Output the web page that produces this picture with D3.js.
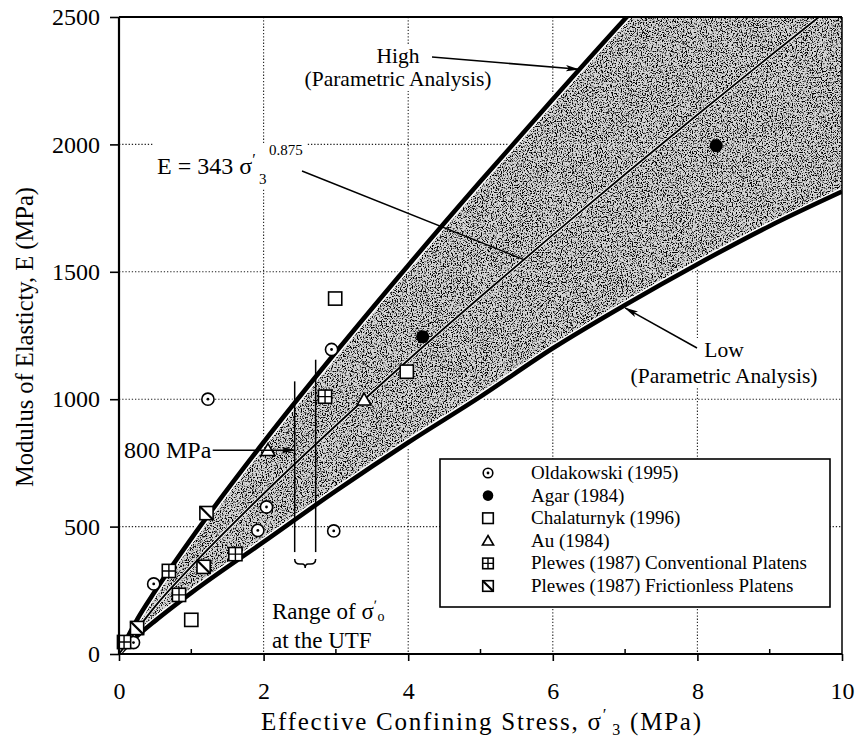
<!DOCTYPE html>
<html>
<head>
<meta charset="utf-8">
<script src="https://cdn.jsdelivr.net/npm/d3@7"></script>
<style>
  body { margin: 0; background: #fff; }
  svg { display: block; font-family: "Liberation Serif", "Times New Roman", serif; }
</style>
</head>
<body>
<div id="chart"></div>
<script>
const xTicks = [0, 2, 4, 6, 8, 10];
const xMinorTicks = [1, 3, 5, 7, 9];
const yTicks = [0, 500, 1000, 1500, 2000, 2500];
const xGrid = [2, 4, 6, 8];
const yGrid = [500, 1000, 1500, 2000];

// Envelope curves and the fitted line (MPa)
const highX = [0, 0.25, 0.5, 1, 2, 3, 4, 5, 6, 7, 7.5];
const highE = [0, 135, 247, 453, 831, 1185, 1525, 1855, 2177, 2493, 2646];
const midX  = [0, 0.5, 1, 2, 3, 4, 5, 6, 7, 8, 9, 10];
const midE  = [0, 187, 343, 629, 897, 1154, 1402, 1645, 1883, 2116, 2346, 2572];
const lowX  = [0, 0.25, 0.5, 1, 2, 3, 4, 5, 6, 7, 8, 9, 10];
const lowE  = [0, 70, 130, 240, 440, 640, 830, 1010, 1200, 1370, 1530, 1680, 1815];

// Test data
const oldakowskiX = [1.23, 2.94, 2.04, 1.92, 2.97, 0.48, 0.2];
const oldakowskiE = [1000, 1195, 577, 485, 483, 275, 45];
const agarX = [8.26, 4.2];
const agarE = [1995, 1245];
const chalaturnykX = [2.99, 3.98, 1.0];
const chalaturnykE = [1395, 1108, 134];
const auX = [2.06, 3.39];
const auE = [800, 998];
const plewesConvX = [2.85, 0.69, 0.83, 1.61, 0.07];
const plewesConvE = [1010, 326, 232, 392, 47];
const plewesFricX = [1.21, 1.17, 0.25];
const plewesFricE = [553, 342, 102];

const seriesNames = ['Oldakowski (1995)', 'Agar (1984)', 'Chalaturnyk (1996)', 'Au (1984)',
  'Plewes (1987) Conventional Platens', 'Plewes (1987) Frictionless Platens'];
const seriesSymbols = ['circleDot', 'filled', 'square', 'triangle', 'squarePlus', 'squareSlash'];
const seriesX = [oldakowskiX, agarX, chalaturnykX, auX, plewesConvX, plewesFricX];
const seriesE = [oldakowskiE, agarE, chalaturnykE, auE, plewesConvE, plewesFricE];

// Range of sigma'o at the UTF
const rangeX = [2.43, 2.72];
const rangeTopE = [1070, 1155];
const rangeBottomE = 400;

const width = 862, height = 744;
const plot = { left: 119, right: 842, top: 17, bottom: 654 };

const svg = d3.select('#chart').append('svg')
  .attr('width', width).attr('height', height);

const x = d3.scaleLinear().domain([0, 10]).range([plot.left, plot.right]);
const y = d3.scaleLinear().domain([0, 2500]).range([plot.bottom, plot.top]);

const defs = svg.append('defs');
defs.append('clipPath').attr('id', 'plot-clip')
  .append('rect')
  .attr('x', plot.left).attr('y', plot.top)
  .attr('width', plot.right - plot.left).attr('height', plot.bottom - plot.top);

// Stipple texture for the shaded band
const speckle = defs.append('filter').attr('id', 'speckle')
  .attr('filterUnits', 'userSpaceOnUse')
  .attr('x', plot.left).attr('y', plot.top)
  .attr('width', plot.right - plot.left).attr('height', plot.bottom - plot.top);
speckle.append('feTurbulence')
  .attr('type', 'fractalNoise').attr('baseFrequency', 0.8)
  .attr('numOctaves', 2).attr('seed', 4);
speckle.append('feColorMatrix').attr('type', 'matrix')
  .attr('values', '0 0 0 0 0  0 0 0 0 0  0 0 0 0 0  6 0 0 0 -2.95');

defs.append('marker').attr('id', 'arrow')
  .attr('viewBox', '0 0 14 8').attr('refX', 13).attr('refY', 4)
  .attr('markerWidth', 14).attr('markerHeight', 8)
  .attr('markerUnits', 'userSpaceOnUse').attr('orient', 'auto')
  .append('path').attr('d', 'M0,0.8 L14,4 L0,7.2 L3,4 Z').attr('fill', '#000');

const toPts = (xs, es) => xs.map((v, i) => [v, es[i]]);
const line = d3.line().x(d => x(d[0])).y(d => y(d[1])).curve(d3.curveMonotoneX);

// ---- grid ----
const grid = svg.append('g').attr('stroke', '#222').attr('stroke-width', 1.1)
  .attr('stroke-dasharray', '1.3,1.9');
grid.selectAll('.gx').data(xGrid).enter().append('line')
  .attr('x1', d => x(d)).attr('x2', d => x(d))
  .attr('y1', plot.top).attr('y2', plot.bottom);
grid.selectAll('.gy').data(yGrid).enter().append('line')
  .attr('y1', d => y(d)).attr('y2', d => y(d))
  .attr('x1', plot.left).attr('x2', plot.right);

// ---- shaded band between High and Low ----
const highPts = toPts(highX, highE);
const lowPts = toPts(lowX, lowE);
const topE = highE[highE.length - 1];
const bandD = line(highPts) +
  `L${x(10)},${y(topE)}L${x(10)},${y(lowE[lowE.length - 1])}` +
  line(lowPts.slice().reverse()).replace(/^M/, 'L') + 'Z';

defs.append('clipPath').attr('id', 'band-clip').append('path').attr('d', bandD);

const bandG = svg.append('g').attr('clip-path', 'url(#plot-clip)');
bandG.append('path').attr('d', bandD).attr('fill', '#d4d4d4');
bandG.append('g').attr('clip-path', 'url(#band-clip)')
  .append('rect')
  .attr('x', plot.left).attr('y', plot.top)
  .attr('width', plot.right - plot.left).attr('height', plot.bottom - plot.top)
  .attr('filter', 'url(#speckle)');

// grid shows faintly through the band
const grid2 = bandG.append('g').attr('clip-path', 'url(#band-clip)')
  .attr('stroke', '#f4f4f4').attr('stroke-width', 1).attr('stroke-dasharray', '1.3,1.9')
  .attr('opacity', 0.6);
grid2.selectAll('line.gx').data(xGrid).enter().append('line')
  .attr('x1', d => x(d)).attr('x2', d => x(d)).attr('y1', plot.top).attr('y2', plot.bottom);
grid2.selectAll('line.gy').data(yGrid).enter().append('line')
  .attr('y1', d => y(d)).attr('y2', d => y(d)).attr('x1', plot.left).attr('x2', plot.right);

// curves: white halo then black line
[[highPts, 4.6, 3], [lowPts, 4.6, 3], [toPts(midX, midE), 1.9, 1.6]].forEach(([pts, w, halo]) => {
  bandG.append('path').attr('d', line(pts)).attr('fill', 'none')
    .attr('stroke', '#fff').attr('stroke-width', w + halo);
  bandG.append('path').attr('d', line(pts)).attr('fill', 'none')
    .attr('stroke', '#000').attr('stroke-width', w).attr('stroke-linejoin', 'round');
});

// ---- range of sigma'o lines and brace ----
const rangeG = svg.append('g').attr('stroke', '#000').attr('fill', 'none');
rangeX.forEach((v, i) => {
  rangeG.append('line')
    .attr('x1', x(v)).attr('x2', x(v))
    .attr('y1', y(rangeTopE[i])).attr('y2', y(rangeBottomE))
    .attr('stroke-width', 1.5);
});
{
  const bx0 = x(rangeX[0]), bx1 = x(rangeX[1]), by = y(rangeBottomE) + 7;
  const bm = (bx0 + bx1) / 2;
  rangeG.append('path').attr('stroke-width', 1.5)
    .attr('d', `M${bx0},${by} q0,5 5,5 H${bm - 3} q3,0 3,4 q0,-4 3,-4 H${bx1 - 5} q5,0 5,-5`);
}

// ---- markers ----
function drawMarker(g, type, s) {
  const sw = 1.6;
  if (type === 'circleDot') {
    g.append('circle').attr('r', s - 0.5).attr('fill', '#fff').attr('stroke', '#000').attr('stroke-width', sw);
    g.append('circle').attr('r', 1.4).attr('fill', '#000');
  } else if (type === 'filled') {
    g.append('circle').attr('r', s).attr('fill', '#000');
  } else if (type === 'triangle') {
    g.append('path').attr('d', `M0,${-s} L${s * 1.05},${s * 0.8} L${-s * 1.05},${s * 0.8} Z`)
      .attr('fill', '#fff').attr('stroke', '#000').attr('stroke-width', sw);
  } else {
    g.append('rect').attr('x', -s).attr('y', -s).attr('width', 2 * s).attr('height', 2 * s)
      .attr('fill', '#fff').attr('stroke', '#000').attr('stroke-width', sw);
    if (type === 'squarePlus') {
      g.append('path').attr('d', `M${-s},0H${s}M0,${-s}V${s}`).attr('stroke', '#000').attr('stroke-width', 1.4);
    } else if (type === 'squareSlash') {
      g.append('path').attr('d', `M${-s},${-s}L${s},${s}`).attr('stroke', '#000').attr('stroke-width', 2.2);
    }
  }
}

const markG = svg.append('g');
seriesX.forEach((xs, si) => {
  xs.forEach((v, i) => {
    const g = markG.append('g').attr('transform', `translate(${x(v)},${y(seriesE[si][i])})`);
    drawMarker(g, seriesSymbols[si], 6.6);
  });
});

// ---- annotations ----
function labelWithBg(parent, lines, opts) {
  const g = parent.append('g');
  const bg = g.append('rect').attr('fill', '#fff');
  const t = g.append('text').attr('font-size', opts.size).attr('text-anchor', opts.anchor || 'start');
  lines.forEach((l, i) => {
    t.append('tspan').attr('x', opts.x).attr('y', opts.y + i * opts.lh).text(l);
  });
  const bb = t.node().getBBox();
  bg.attr('x', bb.x - 2).attr('y', bb.y).attr('width', bb.width + 4).attr('height', bb.height);
  return t;
}
const ann = svg.append('g');

labelWithBg(ann, ['High', '(Parametric Analysis)'], { x: 398, y: 63, lh: 23, size: 21.5, anchor: 'middle' });
labelWithBg(ann, ['Low', '(Parametric Analysis)'], { x: 724, y: 357, lh: 26, size: 21.5, anchor: 'middle' });

const highAt = d3.scaleLinear().domain(highX).range(highE);
const lowAt = d3.scaleLinear().domain(lowX).range(lowE);
const midAt = d3.scaleLinear().domain(midX).range(midE);

ann.append('line').attr('x1', 432).attr('y1', 57).attr('x2', x(6.36)).attr('y2', y(highAt(6.36)) - 1)
  .attr('stroke', '#000').attr('stroke-width', 1.5).attr('marker-end', 'url(#arrow)');
ann.append('line').attr('x1', 697).attr('y1', 348).attr('x2', x(7.0)).attr('y2', y(lowAt(7.0)) + 3)
  .attr('stroke', '#000').attr('stroke-width', 1.5).attr('marker-end', 'url(#arrow)');

// E = 343 sigma'3^0.875
{
  const g = ann.append('g');
  const bg = g.append('rect').attr('fill', '#fff');
  const t = g.append('text').attr('font-size', 24).attr('x', 157).attr('y', 174);
  t.append('tspan').text('E = 343 σ');
  t.append('tspan').attr('font-size', 16).attr('dy', -9).text('ʹ');
  g.append('text').attr('font-size', 15).attr('x', 259).attr('y', 184).text('3');
  g.append('text').attr('font-size', 15).attr('x', 269).attr('y', 155).text('0.875');
  bg.attr('x', 154).attr('y', 143).attr('width', 152).attr('height', 46);
  ann.append('line').attr('x1', 302).attr('y1', 171).attr('x2', x(5.6)).attr('y2', y(midAt(5.6)))
    .attr('stroke', '#000').attr('stroke-width', 1.4);
}

// 800 MPa
{
  const g = ann.append('g');
  const t = g.append('text').attr('font-size', 24).attr('x', 124).attr('y', 458).text('800 MPa');
  const bb = t.node().getBBox();
  g.insert('rect', 'text').attr('fill', '#fff')
    .attr('x', bb.x - 2).attr('y', bb.y).attr('width', bb.width + 4).attr('height', bb.height);
  ann.append('line').attr('x1', bb.x + bb.width + 1).attr('y1', y(800))
    .attr('x2', x(rangeX[0])).attr('y2', y(800))
    .attr('stroke', '#000').attr('stroke-width', 1.5).attr('marker-end', 'url(#arrow)');
}

// Range of sigma'o at the UTF
{
  const t = ann.append('text').attr('font-size', 23).attr('x', 272).attr('y', 619);
  t.append('tspan').text('Range of σ');
  t.append('tspan').attr('font-size', 15).attr('dy', -9).text('ʹ');
  t.append('tspan').attr('font-size', 14).attr('dx', 0.5).attr('dy', 11).text('o');
  ann.append('text').attr('font-size', 23).attr('x', 272).attr('y', 648).text('at the UTF');
}

// ---- legend ----
const legend = svg.append('g');
legend.append('rect').attr('x', 440).attr('y', 459).attr('width', 390).attr('height', 148)
  .attr('fill', '#fff').attr('stroke', '#000').attr('stroke-width', 1.6);
seriesNames.forEach((name, i) => {
  const ly = 473 + i * 22.6;
  const g = legend.append('g').attr('transform', `translate(488,${ly})`);
  drawMarker(g, seriesSymbols[i], 5.3);
  legend.append('text').attr('x', 531).attr('y', ly + 6).attr('font-size', 19).text(name);
});

// ---- axes and frame ----
const xAxis = svg.append('g').attr('transform', `translate(0,${plot.bottom})`)
  .call(d3.axisBottom(x).tickValues(xTicks).tickSize(7).tickPadding(21).tickFormat(d3.format('d')));
const yAxis = svg.append('g').attr('transform', `translate(${plot.left},0)`)
  .call(d3.axisLeft(y).tickValues(yTicks).tickSize(9).tickPadding(10).tickFormat(d3.format('d')));
[xAxis, yAxis].forEach(a => {
  a.select('.domain').remove();
  a.selectAll('line').attr('stroke', '#000').attr('stroke-width', 1.6);
  a.selectAll('text').attr('font-size', 24).attr('fill', '#000')
    .attr('font-family', '"Liberation Serif", "Times New Roman", serif');
});
svg.append('g').selectAll('line').data(xMinorTicks).enter().append('line')
  .attr('x1', d => x(d)).attr('x2', d => x(d))
  .attr('y1', plot.bottom).attr('y2', plot.bottom - 5)
  .attr('stroke', '#000').attr('stroke-width', 1.5);

const frame = svg.append('g').attr('stroke', '#000').attr('fill', 'none');
frame.append('line').attr('x1', plot.left).attr('x2', plot.right).attr('y1', plot.bottom).attr('y2', plot.bottom).attr('stroke-width', 2.2);
frame.append('line').attr('x1', plot.left).attr('x2', plot.left).attr('y1', plot.top).attr('y2', plot.bottom).attr('stroke-width', 2.2);
frame.append('line').attr('x1', plot.left).attr('x2', plot.right).attr('y1', plot.top).attr('y2', plot.top).attr('stroke-width', 2);
frame.append('line').attr('x1', plot.right).attr('x2', plot.right).attr('y1', plot.top).attr('y2', plot.bottom).attr('stroke-width', 1.5);

// ---- axis titles ----
{
  const t = svg.append('text').attr('font-size', 25).attr('text-anchor', 'middle')
    .attr('x', 481).attr('y', 730)
    .attr('textLength', 440).attr('lengthAdjust', 'spacing');
  t.append('tspan').text('Effective Confining Stress, σ');
  t.append('tspan').attr('font-size', 17).attr('dy', -10).text('ʹ');
  t.append('tspan').attr('font-size', 16).attr('dx', 4).attr('dy', 15).text('3');
  t.append('tspan').attr('dy', -5).text('  (MPa)');
  svg.append('text').attr('font-size', 24.5).attr('text-anchor', 'middle')
    .attr('transform', 'translate(33,337) rotate(-90)')
    .text('Modulus of Elasticty, E (MPa)');
}
</script>
</body>
</html>
